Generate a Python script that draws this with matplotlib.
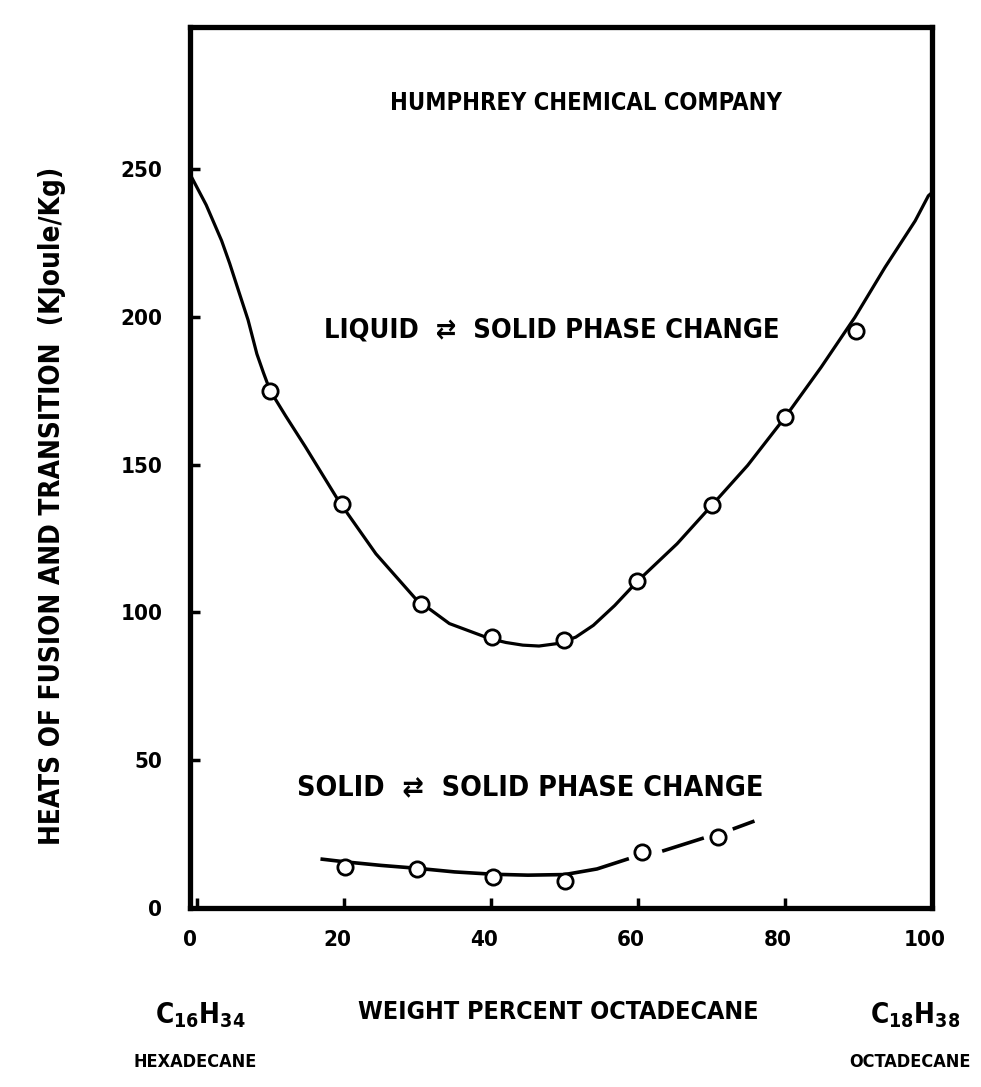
import numpy as np
import matplotlib
matplotlib.use("Agg")
import matplotlib.pyplot as plt
from matplotlib.transforms import ScaledTranslation

plt.rcParams['font.family'] = ['DejaVu Sans']
plt.rcParams['font.weight'] = 'bold'
plt.rcParams['font.stretch'] = 'condensed'
plt.rcParams['mathtext.default'] = 'regular'

# liquid <-> solid heats (circles)
liq_x = [9.9, 19.7, 30.5, 40.1, 49.9, 59.9, 70.1, 80.0, 89.7]
liq_y = [175, 136.5, 102.7, 91.7, 90.8, 110.5, 136.4, 166, 195.3]

# hand drawn liquid curve, read along its path
liq_curve_x = [-1.0, 1.2, 3.3, 4.4, 5.6, 6.9, 8.1, 9.0, 9.9, 12.0, 14.7, 19.2, 24.3, 29.7, 34.3,
               39.8, 42.0, 44.3, 46.5, 48.9, 51.5, 53.9, 56.8, 59.9, 65.3, 70.1, 74.9, 80.0,
               84.9, 89.5, 93.6, 97.7, 99.5, 100.0]
liq_curve_y = [248.2, 237.8, 225.7, 218.0, 208.8, 198.9, 187.4, 181.0, 175.0, 166.5, 156.0, 137.8,
               119.8, 104.6, 96.2, 91.1, 89.8, 88.9, 88.6, 89.4, 91.6, 95.6, 102.3, 110.5, 123.2,
               136.4, 149.7, 166.0, 182.9, 199.8, 216.7, 232.4, 240.9, 242.0]

# solid <-> solid heats
sol_x = [20.1, 29.9, 40.3, 50.0, 60.5, 70.9]
sol_y = [13.8, 13.2, 10.6, 9.2, 19.0, 23.9]

sol_curve_x = [17.0, 20.1, 25.0, 30.0, 35.0, 40.3, 45.0, 50.0, 54.4, 58.5]
sol_curve_y = [16.5, 15.6, 14.4, 13.4, 12.2, 11.4, 11.1, 11.3, 13.2, 16.5]
# broken (dashed) continuation beyond 60 %
sol_dash_x = [63.5, 68.7, 73.1, 75.6]
sol_dash_y = [19.4, 23.5, 26.9, 29.2]

xticks = [0, 20, 40, 60, 80, 100]
xtick_labels = ['0', '20', '40', '60', '80', '100']
yticks = [0, 50, 100, 150, 200, 250]

fig = plt.figure(figsize=(9.81, 10.87), dpi=100)
ax = fig.add_axes([0.1937, 0.1647, 0.7564, 0.8105])

ax.plot(liq_curve_x, liq_curve_y, color='black', lw=2.3, zorder=2)
ax.plot(liq_x, liq_y, 'o', ms=11, mfc='white', mec='black', mew=2.0, zorder=3)

ax.plot(sol_curve_x, sol_curve_y, color='black', lw=2.6, zorder=2)
for i in (0, 2):
    ax.plot(sol_dash_x[i:i+2], sol_dash_y[i:i+2], color='black', lw=2.6, zorder=2)
ax.plot(sol_x, sol_y, 'o', ms=11, mfc='white', mec='black', mew=2.0, zorder=3)

ax.set_xlim(-1, 100)
ax.set_ylim(0, 298)
ax.set_xticks(xticks)
ax.set_xticklabels(xtick_labels)
ax.set_yticks(yticks)
for s in ax.spines.values():
    s.set_linewidth(3.8)
ax.tick_params(direction='in', length=7, width=2.5, labelsize=16)
ax.tick_params(axis='x', pad=16)
ax.tick_params(axis='y', pad=20)
# labels under the x axis sit a little left of their ticks in the original
shift = ScaledTranslation(-0.07, 0, fig.dpi_scale_trans)
for lab in ax.get_xticklabels():
    lab.set_transform(lab.get_transform() + shift)

ax.text(0.534, 0.914, 'HUMPHREY CHEMICAL COMPANY', transform=ax.transAxes,
        ha='center', va='center', fontsize=17)
ax.text(0.487, 0.656, 'LIQUID  \u21c4  SOLID PHASE CHANGE', transform=ax.transAxes,
        ha='center', va='center', fontsize=19.5)
ax.text(0.458, 0.137, 'SOLID  \u21c4  SOLID PHASE CHANGE', transform=ax.transAxes,
        ha='center', va='center', fontsize=20.5)

fig.text(0.053, 0.535, 'HEATS OF FUSION AND TRANSITION  (KJoule/Kg)', rotation=90,
         ha='center', va='center', fontsize=20)
fig.text(0.569, 0.069, 'WEIGHT PERCENT OCTADECANE', ha='center', va='center', fontsize=18)
fig.text(0.204, 0.066, r'$\mathregular{C_{16}H_{34}}$', ha='center', va='center', fontsize=20)
fig.text(0.199, 0.023, 'HEXADECANE', ha='center', va='center', fontsize=13)
fig.text(0.933, 0.066, r'$\mathregular{C_{18}H_{38}}$', ha='center', va='center', fontsize=20)
fig.text(0.928, 0.023, 'OCTADECANE', ha='center', va='center', fontsize=13)

fig.savefig('out.png', dpi=100)
